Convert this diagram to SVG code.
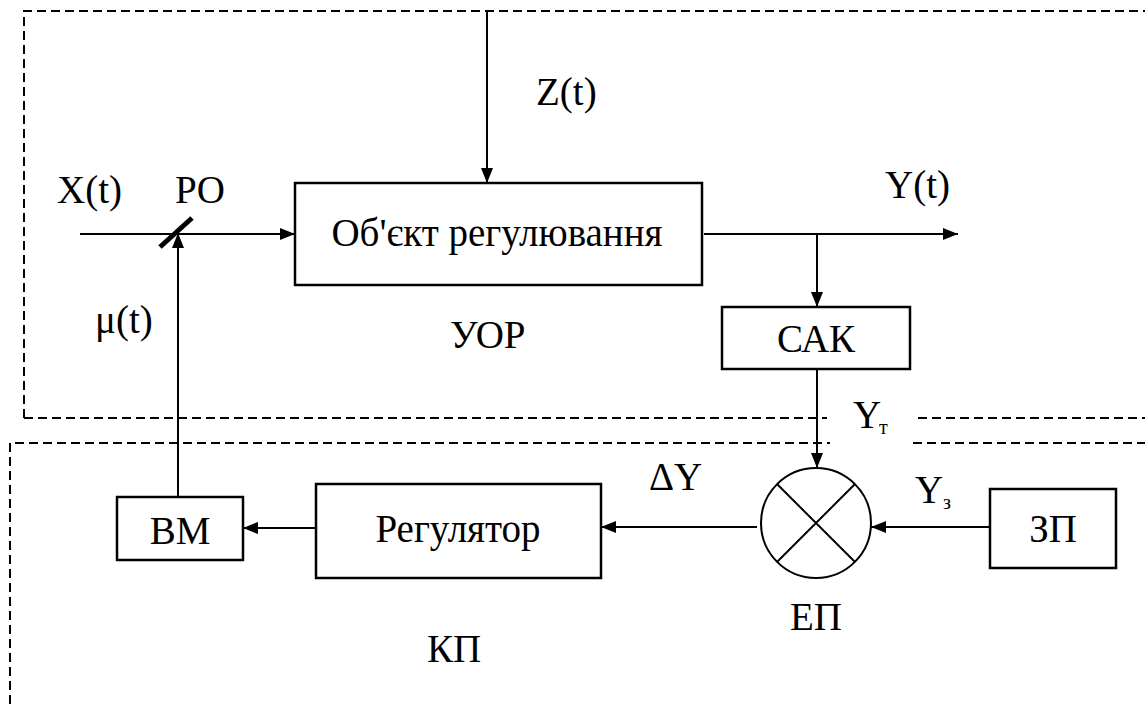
<svg xmlns="http://www.w3.org/2000/svg" width="1145" height="704" viewBox="0 0 1145 704" font-family="Liberation Serif, Times New Roman, serif">
<defs>
<style>
.t{font-size:39px;fill:#000}
.s{font-size:20px;fill:#000}
.box{fill:#fff;stroke:#000;stroke-width:2.5}
.ln{fill:none;stroke:#000;stroke-width:2}
.dash{fill:none;stroke:#000;stroke-width:2;stroke-dasharray:9 5}
</style>
<marker id="ah" markerUnits="userSpaceOnUse" markerWidth="16" markerHeight="12" refX="15" refY="6" orient="auto">
<path d="M0,0 L15,6 L0,12 z" fill="#000"/>
</marker>
</defs>
<rect width="1145" height="704" fill="#fff"/>
<g id="regions">
<path class="dash" d="M24,418 L24,11 L1145,11 M24,418 L827,418 M918,418 L1145,418"/>
<path class="dash" d="M10,704 L10,443 L830,443 M913,443 L1145,443"/>
</g>
<g id="connectors">
<line class="ln" x1="487" y1="11" x2="487" y2="183" marker-end="url(#ah)"/>
<line class="ln" x1="80" y1="234" x2="295" y2="234" marker-end="url(#ah)"/>
<line class="ln" x1="178" y1="497" x2="178" y2="233" marker-end="url(#ah)"/>
<line class="ln" x1="704" y1="234" x2="958" y2="234" marker-end="url(#ah)"/>
<line class="ln" x1="817" y1="234" x2="817" y2="307" marker-end="url(#ah)"/>
<line class="ln" x1="817" y1="369" x2="817" y2="468" marker-end="url(#ah)"/>
<line class="ln" x1="757" y1="527" x2="601" y2="527" marker-end="url(#ah)"/>
<line class="ln" x1="990" y1="527" x2="871" y2="527" marker-end="url(#ah)"/>
<line class="ln" x1="316" y1="528" x2="243" y2="528" marker-end="url(#ah)"/>
</g>
<g id="PO">
<line x1="160" y1="247" x2="192" y2="218" stroke="#000" stroke-width="5"/>
<text class="t" x="175" y="203">PO</text>
</g>
<g id="object">
<rect class="box" x="295" y="183" width="407" height="102" stroke-width="3"/>
<text class="t" x="497" y="246" text-anchor="middle">Об'єкт регулювання</text>
</g>
<g id="SAK">
<rect class="box" x="722" y="307" width="188" height="62"/>
<text class="t" x="816" y="352" text-anchor="middle">САК</text>
</g>
<g id="BM">
<rect class="box" x="117" y="497" width="126" height="63"/>
<text class="t" x="180" y="544" text-anchor="middle">ВМ</text>
</g>
<g id="regulator">
<rect class="box" x="316" y="484" width="285" height="94"/>
<text class="t" x="458" y="542" text-anchor="middle">Регулятор</text>
</g>
<g id="EP">
<circle cx="816" cy="523" r="55" fill="#fff" stroke="#000" stroke-width="2"/>
<path class="ln" d="M777,484 L855,562 M855,484 L777,562"/>
<text class="t" x="816" y="630" text-anchor="middle">ЕП</text>
</g>
<g id="ZP">
<rect class="box" x="990" y="489" width="126" height="79"/>
<text class="t" x="1053" y="542" text-anchor="middle">ЗП</text>
</g>
<g id="labels">
<text class="t" x="57" y="203">X(t)</text>
<text class="t" x="95" y="333">μ(t)</text>
<text class="t" x="536" y="105">Z(t)</text>
<text class="t" x="885" y="198">Y(t)</text>
<text class="t" x="450" y="348">УОР</text>
<text class="t" x="853" y="428">Y</text><text class="s" x="879" y="434">т</text>
<text class="t" x="915" y="503">Y</text><text class="s" x="943" y="509">з</text>
<text class="t" x="649" y="490">ΔY</text>
<text class="t" x="427" y="662">КП</text>
</g>
</svg>
